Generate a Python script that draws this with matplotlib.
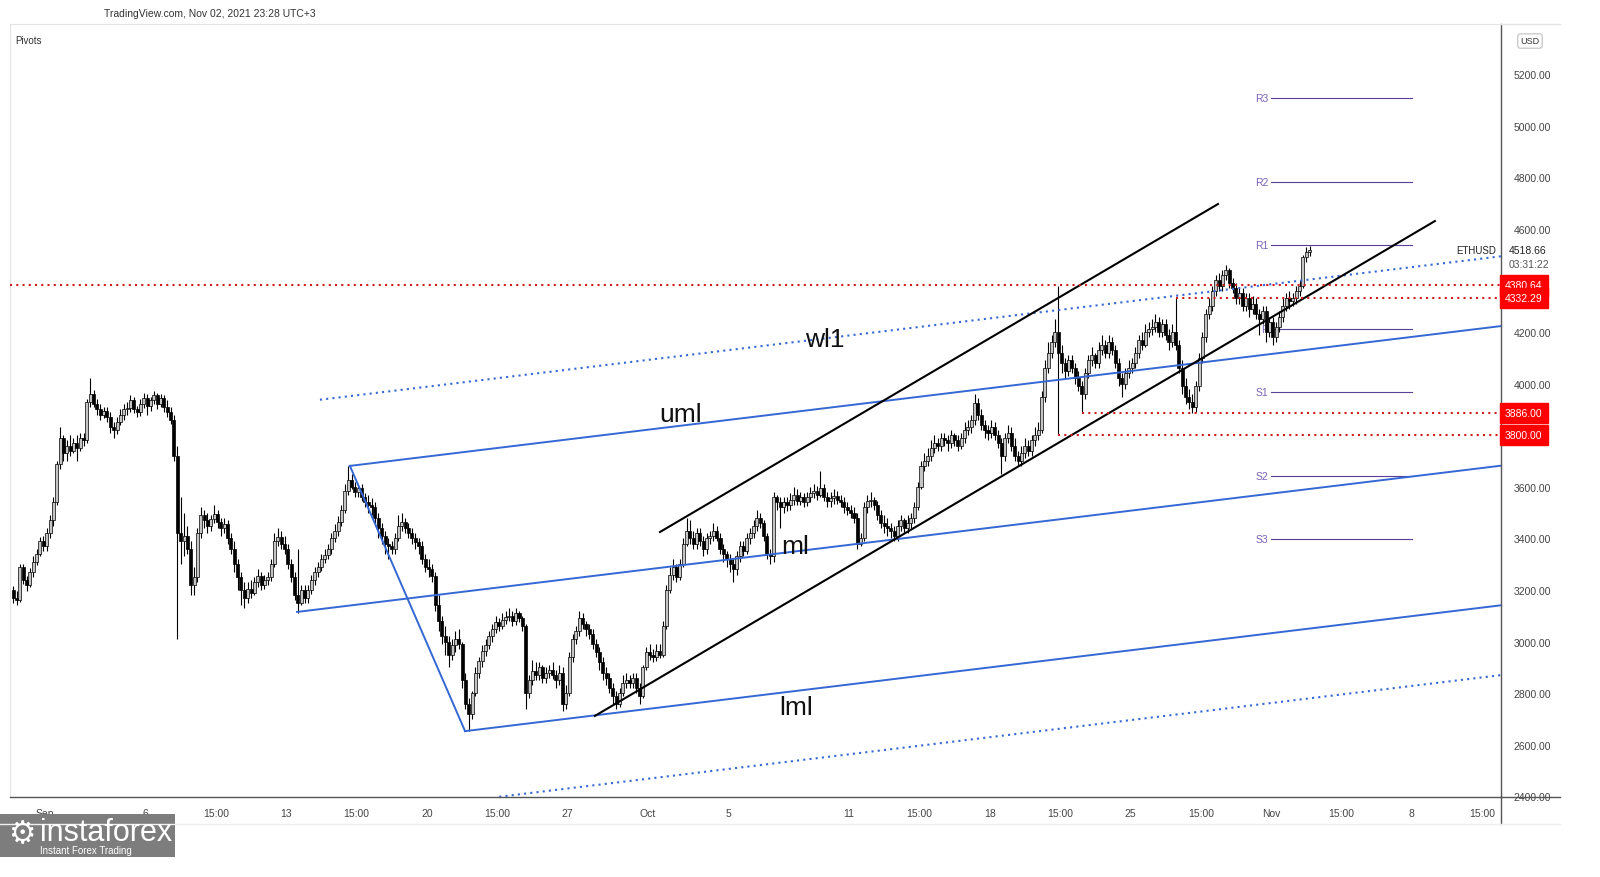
import numpy as np
import matplotlib.pyplot as plt
from matplotlib.lines import Line2D
from matplotlib.patches import Rectangle

plt.rcParams['font.family'] = ['Liberation Sans', 'DejaVu Sans']

# ETHUSD 4h candles, first one Aug 30 08:00 (day 0 = Sep 1 00:00)
start_day = -1 - 16 / 24
first_open = 3200

closes = [
    3170, 3160, 3290, 3240,                    # Aug 30
    3220, 3270, 3310, 3340, 3390, 3370,        # Aug 31
    3420, 3470, 3540, 3690, 3790, 3730,        # Sep 1
    3760, 3740, 3770, 3750, 3790, 3780,
    3930, 3960, 3920, 3900, 3880, 3895,
    3870, 3830, 3820, 3850, 3880, 3900,
    3905, 3935, 3900, 3890, 3920, 3945,
    3915, 3935, 3955, 3920, 3945, 3910,        # Sep 6
    3890, 3860, 3720, 3420, 3390, 3410,
    3360, 3220, 3250, 3420, 3490, 3470,
    3450, 3475, 3495, 3465, 3440, 3455,
    3400, 3360, 3300, 3250, 3200, 3170,
    3205, 3190, 3230, 3255, 3220, 3240,
    3250, 3300, 3390, 3405, 3380, 3360,
    3300, 3250, 3180, 3150, 3200, 3170,        # Sep 13
    3200, 3240, 3270, 3290, 3320, 3335,
    3360, 3400, 3430, 3465, 3510, 3585,
    3625, 3600, 3580, 3595, 3560, 3540,
    3530, 3520, 3480, 3440, 3410, 3380,
    3370, 3360, 3400, 3450, 3465, 3440,
    3420, 3400, 3385, 3370, 3320, 3290,
    3280, 3255, 3140, 3080, 3020, 3000,        # Sep 20
    2950, 2985, 3010, 2990, 2850, 2760,
    2720, 2800, 2880, 2925, 2965, 2985,
    3020, 3050, 3075, 3060, 3085, 3095,
    3100, 3080, 3110, 3090, 3060, 2800,
    2850, 2885, 2870, 2900, 2860, 2880,
    2890, 2870, 2850, 2880, 2760, 2800,
    2940, 3010, 3040, 3090, 3070, 3050,        # Sep 27
    3030, 2990, 2960, 2920, 2880, 2860,
    2820, 2790, 2760, 2800, 2840, 2850,
    2840, 2860, 2820, 2790, 2900, 2960,
    2950, 2940, 2965, 2950, 3060, 3200,        # Oct 1
    3260, 3290, 3250, 3300, 3380, 3430,
    3400, 3380, 3420, 3390, 3360, 3400,
    3410, 3430, 3400, 3360, 3340, 3320,
    3300, 3280, 3330, 3370, 3350, 3400,        # Oct 5
    3420, 3450, 3480, 3460, 3410, 3340,
    3330, 3560, 3540, 3520, 3540, 3530,
    3550, 3570, 3545, 3560, 3540, 3560,
    3575, 3585, 3570, 3595, 3560, 3545,
    3555, 3565, 3550, 3540, 3520, 3510,
    3500, 3480, 3380, 3400, 3520, 3545,        # Oct 11
    3550, 3530, 3490, 3460, 3450, 3440,
    3430, 3410, 3450, 3470, 3440, 3460,
    3480, 3520, 3600, 3680, 3700, 3720,
    3750, 3770, 3760, 3790, 3780, 3770,
    3800, 3780, 3760, 3790, 3820, 3830,
    3860, 3925, 3880, 3840, 3820, 3810,
    3830, 3800, 3770, 3720, 3790, 3810,        # Oct 18
    3760, 3720, 3700, 3730, 3760, 3740,
    3780, 3800, 3820, 3950, 4060, 4120,
    4160, 4200, 4120, 4080, 4050, 4090,
    4060, 4020, 3990, 3960, 4040, 4090,
    4110, 4080, 4130, 4150, 4120, 4160,
    4130, 4080, 4020, 4000, 4040, 4060,
    4080, 4120, 4170, 4150, 4200, 4210,        # Oct 25
    4220, 4240, 4200, 4230, 4190, 4160,
    4200, 4150, 4060, 3990, 3950, 3930,
    3910, 3990, 4100, 4180, 4270, 4300,
    4360, 4400, 4380, 4420, 4440, 4390,
    4370, 4330, 4350, 4300, 4330, 4290,
    4310, 4270, 4250, 4280, 4200, 4240,
    4180, 4220, 4260, 4300, 4330, 4320,        # Nov 1
    4330, 4360, 4380, 4490, 4510, 4518.66,
]

highs = [
    3215, 3195, 3300, 3300,
    3255, 3285, 3330, 3360, 3405, 3410,
    3440, 3490, 3560, 3700, 3830, 3800,
    3780, 3800, 3790, 3800, 3810, 3810,
    3940, 4020, 3975, 3940, 3920, 3910,
    3910, 3890, 3850, 3870, 3900, 3920,
    3930, 3955, 3950, 3915, 3940, 3965,
    3960, 3950, 3970, 3965, 3960, 3955,
    3935, 3910, 3880, 3760, 3560, 3500,
    3450, 3390, 3290, 3440, 3520, 3510,
    3500, 3490, 3530, 3510, 3480, 3480,
    3470, 3420, 3390, 3320, 3270, 3230,
    3230, 3240, 3250, 3280, 3270, 3260,
    3270, 3320, 3420, 3440, 3430, 3410,
    3380, 3320, 3270, 3360, 3220, 3220,
    3220, 3260, 3290, 3310, 3340, 3360,
    3380, 3420, 3455, 3485, 3530, 3610,
    3680, 3650, 3620, 3610, 3610, 3575,
    3570, 3555, 3540, 3500, 3460, 3430,
    3400, 3390, 3420, 3490, 3500, 3480,
    3460, 3440, 3420, 3400, 3390, 3340,
    3320, 3300, 3270, 3180, 3100, 3060,
    3020, 3010, 3040, 3050, 3000, 2880,
    2780, 2810, 2900, 2940, 2985, 3010,
    3040, 3070, 3100, 3090, 3110, 3120,
    3130, 3120, 3130, 3120, 3100, 3070,
    2870, 2930, 2920, 2920, 2910, 2900,
    2910, 2920, 2890, 2910, 2900, 2830,
    2960, 3030, 3060, 3120, 3110, 3080,
    3070, 3050, 3010, 2980, 2940, 2900,
    2880, 2840, 2810, 2820, 2870, 2880,
    2870, 2880, 2880, 2840, 2910, 2980,
    2990, 2970, 2990, 2990, 3080, 3220,
    3290, 3320, 3300, 3320, 3400, 3480,
    3470, 3430, 3440, 3440, 3410, 3420,
    3430, 3460, 3450, 3420, 3380, 3350,
    3340, 3320, 3350, 3390, 3390, 3420,
    3440, 3470, 3510, 3500, 3470, 3420,
    3360, 3580, 3570, 3560, 3560, 3560,
    3575, 3600, 3590, 3580, 3575, 3580,
    3600, 3610, 3605, 3660, 3610, 3580,
    3580, 3590, 3585, 3570, 3560, 3540,
    3530, 3520, 3500, 3420, 3540, 3570,
    3580, 3560, 3545, 3510, 3490, 3480,
    3460, 3450, 3470, 3490, 3480, 3490,
    3500, 3540, 3620, 3700, 3730, 3750,
    3780, 3800, 3790, 3810, 3810, 3800,
    3820, 3810, 3800, 3810, 3850, 3860,
    3880, 3960, 3945, 3900, 3860, 3840,
    3860, 3850, 3820, 3790, 3810, 3840,
    3830, 3790, 3740, 3760, 3790, 3780,
    3800, 3830, 3850, 3970, 4090, 4160,
    4190, 4250, 4380, 4150, 4100, 4110,
    4110, 4080, 4050, 4010, 4060, 4110,
    4140, 4120, 4160, 4190, 4170, 4190,
    4180, 4150, 4100, 4040, 4060, 4090,
    4100, 4140, 4190, 4200, 4230, 4240,
    4250, 4270, 4260, 4250, 4250, 4210,
    4230, 4332, 4170, 4090, 4020, 3980,
    3960, 4010, 4120, 4200, 4290, 4330,
    4380, 4420, 4430, 4440, 4460, 4450,
    4410, 4390, 4370, 4370, 4350, 4350,
    4340, 4330, 4290, 4300, 4300, 4260,
    4260, 4240, 4280, 4330, 4350, 4360,
    4350, 4380, 4400, 4500, 4530, 4535,
]

lows = [
    3150, 3140, 3155, 3225,
    3195, 3210, 3250, 3295, 3330, 3350,
    3350, 3400, 3450, 3530, 3670, 3700,
    3700, 3720, 3730, 3700, 3740, 3760,
    3770, 3910, 3910, 3880, 3860, 3865,
    3850, 3810, 3790, 3805, 3840, 3860,
    3880, 3890, 3885, 3870, 3875, 3905,
    3880, 3895, 3920, 3900, 3910, 3890,
    3870, 3845, 3700, 3010, 3300, 3330,
    3340, 3180, 3180, 3230, 3400, 3440,
    3420, 3430, 3460, 3440, 3410, 3420,
    3380, 3340, 3270, 3200, 3140, 3130,
    3150, 3170, 3180, 3210, 3200, 3205,
    3220, 3235, 3290, 3370, 3360, 3340,
    3280, 3230, 3160, 3110, 3140, 3150,
    3150, 3185, 3220, 3250, 3275, 3305,
    3320, 3340, 3385, 3410, 3450, 3500,
    3570, 3590, 3560, 3560, 3545, 3520,
    3500, 3490, 3450, 3400, 3380, 3340,
    3320, 3340, 3340, 3390, 3430, 3420,
    3400, 3380, 3360, 3340, 3300, 3270,
    3250, 3230, 3120, 3040, 2990, 2950,
    2900, 2930, 2960, 2970, 2820, 2740,
    2655, 2700, 2790, 2860, 2900, 2945,
    2970, 3000, 3035, 3040, 3050, 3070,
    3080, 3060, 3065, 3075, 3040, 2740,
    2780, 2830, 2850, 2850, 2840, 2840,
    2860, 2855, 2820, 2830, 2730, 2740,
    2790, 2920, 2990, 3020, 3050, 3020,
    3010, 2970, 2940, 2890, 2850, 2830,
    2800, 2760, 2740, 2745, 2790, 2820,
    2820, 2820, 2800, 2760, 2780, 2890,
    2930, 2920, 2925, 2935, 2940, 3050,
    3190, 3240, 3230, 3240, 3290, 3370,
    3380, 3360, 3360, 3370, 3330, 3340,
    3380, 3390, 3390, 3340, 3310, 3290,
    3270, 3230, 3260, 3310, 3330, 3340,
    3380, 3400, 3430, 3440, 3390, 3320,
    3300, 3310, 3510, 3440, 3500, 3505,
    3510, 3530, 3530, 3530, 3520, 3525,
    3540, 3555, 3550, 3560, 3545, 3520,
    3520, 3535, 3535, 3520, 3500, 3490,
    3480, 3460, 3360, 3370, 3390, 3500,
    3520, 3510, 3470, 3440, 3420, 3410,
    3400, 3390, 3390, 3430, 3420, 3420,
    3440, 3460, 3510, 3590, 3660, 3680,
    3700, 3730, 3740, 3740, 3760, 3740,
    3750, 3760, 3740, 3745, 3770, 3800,
    3810, 3840, 3860, 3820, 3790, 3780,
    3790, 3780, 3750, 3650, 3700, 3770,
    3740, 3700, 3680, 3680, 3710, 3720,
    3720, 3760, 3780, 3810, 3930, 4040,
    4100, 4140, 3800, 4040, 4020, 4030,
    4040, 4000, 3970, 3886, 3940, 4020,
    4070, 4060, 4060, 4110, 4100, 4100,
    4110, 4060, 3990, 3950, 3980, 4020,
    4040, 4060, 4100, 4130, 4140, 4180,
    4190, 4200, 4180, 4180, 4170, 4130,
    4140, 4130, 4040, 3960, 3920, 3900,
    3886, 3890, 3970, 4080, 4160, 4250,
    4280, 4340, 4360, 4360, 4400, 4370,
    4350, 4310, 4310, 4280, 4280, 4260,
    4270, 4250, 4190, 4230, 4160, 4180,
    4150, 4160, 4200, 4240, 4280, 4290,
    4300, 4310, 4340, 4370, 4470, 4495,
]

# pitchfork anchor points (day, price)
pf_days = [12.54, 15.17, 20.90]
pf_prices = [3115, 3681, 2653]

# black rising channel
chan_low_days = [27.36, 69.15]
chan_low_prices = [2712, 4630]
chan_up_days = [30.6, 58.36]
chan_up_prices = [3425, 4696]

# red horizontal levels: price and start day
red_levels = [4380.64, 4332.29, 3886.00, 3800.00]
red_starts = [-1.75, 56.25, 51.6, 50.4]

# weekly pivots
pivot_names = ['R3', 'R2', 'R1', 'P', 'S1', 'S2', 'S3']
pivot_vals = [5106, 4783, 4536, 4213, 3966, 3643, 3396]

# 3800 and 4400 sit under the red price boxes
price_ticks = [2400, 2600, 2800, 3000, 3200, 3400, 3600,
               4000, 4200, 4600, 4800, 5000, 5200]
time_ticks = [0, 5, 8.5, 12, 15.5, 19, 22.5, 26, 30, 34, 40,
              43.5, 47, 50.5, 54, 57.5, 61, 64.5, 68, 71.5]
time_labels = ['Sep', '6', '15:00', '13', '15:00', '20', '15:00', '27',
               'Oct', '5', '11', '15:00', '18', '15:00', '25', '15:00',
               'Nov', '15:00', '8', '15:00']

last_price = 4518.66

W, H = 1600, 878
fig = plt.figure(figsize=(16, 8.78), dpi=100)
ax = fig.add_axes([10 / W, 80 / H, 1491 / W, 773 / H])
x_min, x_max = -1.741, 72.44
ax.set_xlim(x_min, x_max)
ax.set_ylim(2397.7, 5393.8)

# candles
closes = np.array(closes, dtype=float)
n = len(closes)
opens = np.r_[first_open, closes[:-1]]
highs = np.maximum(np.array(highs, dtype=float), np.maximum(opens, closes))
lows = np.minimum(np.array(lows, dtype=float), np.minimum(opens, closes))
t = start_day + np.arange(n) / 6 + 1 / 12
up = closes >= opens
body_lo = np.minimum(opens, closes)
body_h = np.maximum(np.abs(closes - opens), 5)

ax.vlines(t, lows, highs, color='black', lw=0.8, zorder=3)
ax.bar(t[up], body_h[up], bottom=body_lo[up], width=0.15,
       color='#c4c4c4', edgecolor='black', linewidth=0.5, zorder=4)
ax.bar(t[~up], body_h[~up], bottom=body_lo[~up], width=0.15,
       color='black', edgecolor='black', linewidth=0.5, zorder=4)

# pitchfork
blue = '#3568d4'
a_d, b_d, c_d = pf_days
a_p, b_p, c_p = pf_prices
mid_d, mid_p = (b_d + c_d) / 2, (b_p + c_p) / 2
slope = (mid_p - a_p) / (mid_d - a_d)


def ml_at(d):
    return a_p + slope * (d - a_d)


ax.plot([a_d, x_max], [a_p, ml_at(x_max)], color=blue, lw=1.4, zorder=5)
ax.plot([b_d, x_max], [b_p, b_p + slope * (x_max - b_d)], color=blue, lw=1.4, zorder=5)
ax.plot([c_d, x_max], [c_p, c_p + slope * (x_max - c_d)], color=blue, lw=1.4, zorder=5)
ax.plot([b_d, c_d], [b_p, c_p], color=blue, lw=1.4, zorder=5)
w_up = 1.5 * (b_p - ml_at(b_d))
w_dn = 1.5 * (ml_at(c_d) - c_p)
d0 = 13.68
ax.plot([d0, x_max], [ml_at(d0) + w_up, ml_at(x_max) + w_up],
        color=blue, lw=1.5, ls=(0, (1, 2)), zorder=5)
d1 = 22.6
ax.plot([d1, x_max], [ml_at(d1) - w_dn, ml_at(x_max) - w_dn],
        color=blue, lw=1.5, ls=(0, (1, 2)), zorder=5)

# channel
ax.plot(chan_low_days, chan_low_prices, color='black', lw=1.5, zorder=5)
ax.plot(chan_up_days, chan_up_prices, color='black', lw=1.5, zorder=5)

# red levels
for lvl, st in zip(red_levels, red_starts):
    ax.plot([st, x_max], [lvl, lvl], color='#d01c1c', lw=1.5,
            ls=(0, (1, 2)), zorder=5)

# pivots
for name, val in zip(pivot_names, pivot_vals):
    ax.plot([61, 68], [val, val], color='#5a3f96', lw=0.8, zorder=2)
    ax.text(60.85, val, name, ha='right', va='center', fontsize=7.5,
            color='#7a62b8', zorder=2)

# drawing labels
lab = dict(fontsize=19, color='#111111', ha='center', va='center', zorder=6)
ax.text(38.8, 4173, 'wl1', **lab)
ax.text(31.64, 3882, 'uml', **lab)
ax.text(37.31, 3370, 'ml', **lab)
ax.text(37.36, 2747, 'lml', **lab)

# axes styling
ax.yaxis.tick_right()
ax.set_yticks(price_ticks)
ax.set_yticklabels(['%.2f' % p for p in price_ticks])
ax.set_xticks(time_ticks)
ax.set_xticklabels(time_labels)
ax.tick_params(axis='y', length=0, pad=9, labelsize=7.5, labelcolor='#444444')
ax.tick_params(axis='x', length=0, pad=8, labelsize=7.5, labelcolor='#444444')
for s in ['top', 'left']:
    ax.spines[s].set_color('#e4e4e4')
for s in ['right', 'bottom']:
    ax.spines[s].set_color('#555555')
    ax.spines[s].set_linewidth(1.0)

# axis extensions and separators
fig.add_artist(Line2D([1501 / W, 1560 / W], [1 - 798 / H, 1 - 798 / H],
                      color='#555555', lw=1.0))
fig.add_artist(Line2D([1501 / W, 1501 / W], [1 - 798 / H, 1 - 825 / H],
                      color='#555555', lw=1.0))
fig.add_artist(Line2D([0, 1560 / W], [1 - 825 / H, 1 - 825 / H],
                      color='#eeeeee', lw=1.0))
fig.add_artist(Line2D([1501 / W, 1560 / W], [1 - 25 / H, 1 - 25 / H],
                      color='#e4e4e4', lw=1.0))

# red price boxes
ax_right = 1 + 4 / 1491
for lvl in red_levels:
    ax.text(ax_right, lvl, '%.2f' % lvl, transform=ax.get_yaxis_transform(),
            ha='left', va='center', fontsize=7.5, color='white', zorder=7,
            clip_on=False,
            bbox=dict(boxstyle='square,pad=0.5', fc='#ff0000', ec='#ff0000'))

# last price
ax.text(1 + 8 / 1491, last_price, '%.2f' % last_price,
        transform=ax.get_yaxis_transform(), ha='left', va='center',
        fontsize=7.5, color='#222222', clip_on=False, zorder=7)
ax.text(1 + 8 / 1491, last_price - 14 * 3.876, '03:31:22',
        transform=ax.get_yaxis_transform(), ha='left', va='center',
        fontsize=7.5, color='#555555', clip_on=False, zorder=7)
ax.text(1 - 5 / 1491, last_price, 'ETHUSD', transform=ax.get_yaxis_transform(),
        ha='right', va='center', fontsize=7, color='#222222', zorder=7)

# header
fig.text(104 / W, 1 - 14 / H, 'TradingView.com, Nov 02, 2021 23:28 UTC+3',
         fontsize=7.5, color='#333333', va='center')
fig.text(15 / W, 1 - 41 / H, 'Pivots', fontsize=7, color='#333333', va='center')
fig.text(1530 / W, 1 - 42 / H, 'USD', fontsize=6.5, color='#333333',
         ha='center', va='center',
         bbox=dict(boxstyle='round,pad=0.3', fc='white', ec='#cccccc'))

# watermark logo
fig.add_artist(Rectangle((0, 1 - 858 / H), 175 / W, 43 / H,
                         transform=fig.transFigure, fc='#7d7d7d', ec='none'))
fig.text(22 / W, 1 - 835 / H, '\u2699', fontsize=22, color='white',
         ha='center', va='center', family='DejaVu Sans')
fig.text(40 / W, 1 - 833 / H, 'instaforex', fontsize=22, color='white',
         va='center')
fig.text(40 / W, 1 - 851 / H, 'Instant Forex Trading', fontsize=7,
         color='white', va='center')

fig.savefig('out.png', dpi=100, facecolor='white')
